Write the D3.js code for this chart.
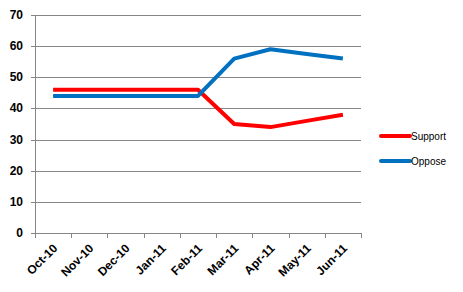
<!DOCTYPE html>
<html>
<head>
<meta charset="utf-8">
<script src="https://cdn.jsdelivr.net/npm/d3@7"></script>
<style>
  body { margin: 0; background: #fff; }
  text { font-family: "Liberation Sans", Arial, sans-serif; }
</style>
</head>
<body>
<div id="chart"></div>
<script>
const months = ["Oct-10", "Nov-10", "Dec-10", "Jan-11", "Feb-11", "Mar-11", "Apr-11", "May-11", "Jun-11"];
const support = [46, 46, 46, 46, 46, 35, 34, 36, 38];
const oppose = [44, 44, 44, 44, 44, 56, 59, 57.5, 56];
const yTicks = [0, 10, 20, 30, 40, 50, 60, 70];
const seriesNames = ["Support", "Oppose"];
const seriesColors = ["#ff0000", "#0070c0"];

const W = 463, H = 292;
const margin = { top: 15, right: 102, bottom: 59, left: 35 };

const svg = d3.select("#chart").append("svg")
    .attr("width", W)
    .attr("height", H);

const x = d3.scaleBand()
    .domain(months)
    .range([margin.left, W - margin.right]);

const y = d3.scaleLinear()
    .domain([0, 70])
    .range([H - margin.bottom, margin.top]);

// gridlines
svg.append("g")
    .selectAll("line")
    .data(yTicks)
    .join("line")
    .attr("x1", margin.left - 4)
    .attr("x2", W - margin.right)
    .attr("y1", d => Math.round(y(d)) + 0.5)
    .attr("y2", d => Math.round(y(d)) + 0.5)
    .attr("stroke", "#868686")
    .attr("stroke-width", 1);

// y axis line
svg.append("line")
    .attr("x1", margin.left + 0.5)
    .attr("x2", margin.left + 0.5)
    .attr("y1", y(70))
    .attr("y2", y(0))
    .attr("stroke", "#868686");

// x tick marks
const tickXs = months.map(m => x(m)).concat([x.range()[1]]);
svg.append("g")
    .selectAll("line")
    .data(tickXs)
    .join("line")
    .attr("x1", d => Math.round(d) + 0.5)
    .attr("x2", d => Math.round(d) + 0.5)
    .attr("y1", y(0))
    .attr("y2", y(0) + 5)
    .attr("stroke", "#868686");

// y labels
svg.append("g")
    .selectAll("text")
    .data(yTicks)
    .join("text")
    .attr("x", 23)
    .attr("y", d => y(d) + 4)
    .attr("text-anchor", "end")
    .attr("font-size", 12)
    .attr("font-weight", "bold")
    .text(d => d);

// x labels, rotated
svg.append("g")
    .selectAll("text")
    .data(months)
    .join("text")
    .attr("transform", d => `translate(${x(d) + x.bandwidth() / 2 + 5},${y(0) + 16}) rotate(-45)`)
    .attr("text-anchor", "end")
    .attr("font-size", 12)
    .attr("font-weight", "bold")
    .text(d => d);

// lines
const line = d3.line()
    .x((d, i) => x(months[i]) + x.bandwidth() / 2)
    .y(d => y(d));

[support, oppose].forEach((vals, k) => {
    svg.append("path")
        .datum(vals)
        .attr("d", line)
        .attr("fill", "none")
        .attr("stroke", seriesColors[k])
        .attr("stroke-width", 4)
        .attr("stroke-linejoin", "round");
});

// legend
const legend = svg.append("g");
seriesNames.forEach((name, k) => {
    const ly = 136 + k * 25;
    legend.append("line")
        .attr("x1", 381)
        .attr("x2", 410)
        .attr("y1", ly)
        .attr("y2", ly)
        .attr("stroke", seriesColors[k])
        .attr("stroke-width", 4)
        .attr("stroke-linecap", "round");
    legend.append("text")
        .attr("x", 411)
        .attr("y", ly + 4)
        .attr("font-size", 10)
        .text(name);
});
</script>
</body>
</html>
